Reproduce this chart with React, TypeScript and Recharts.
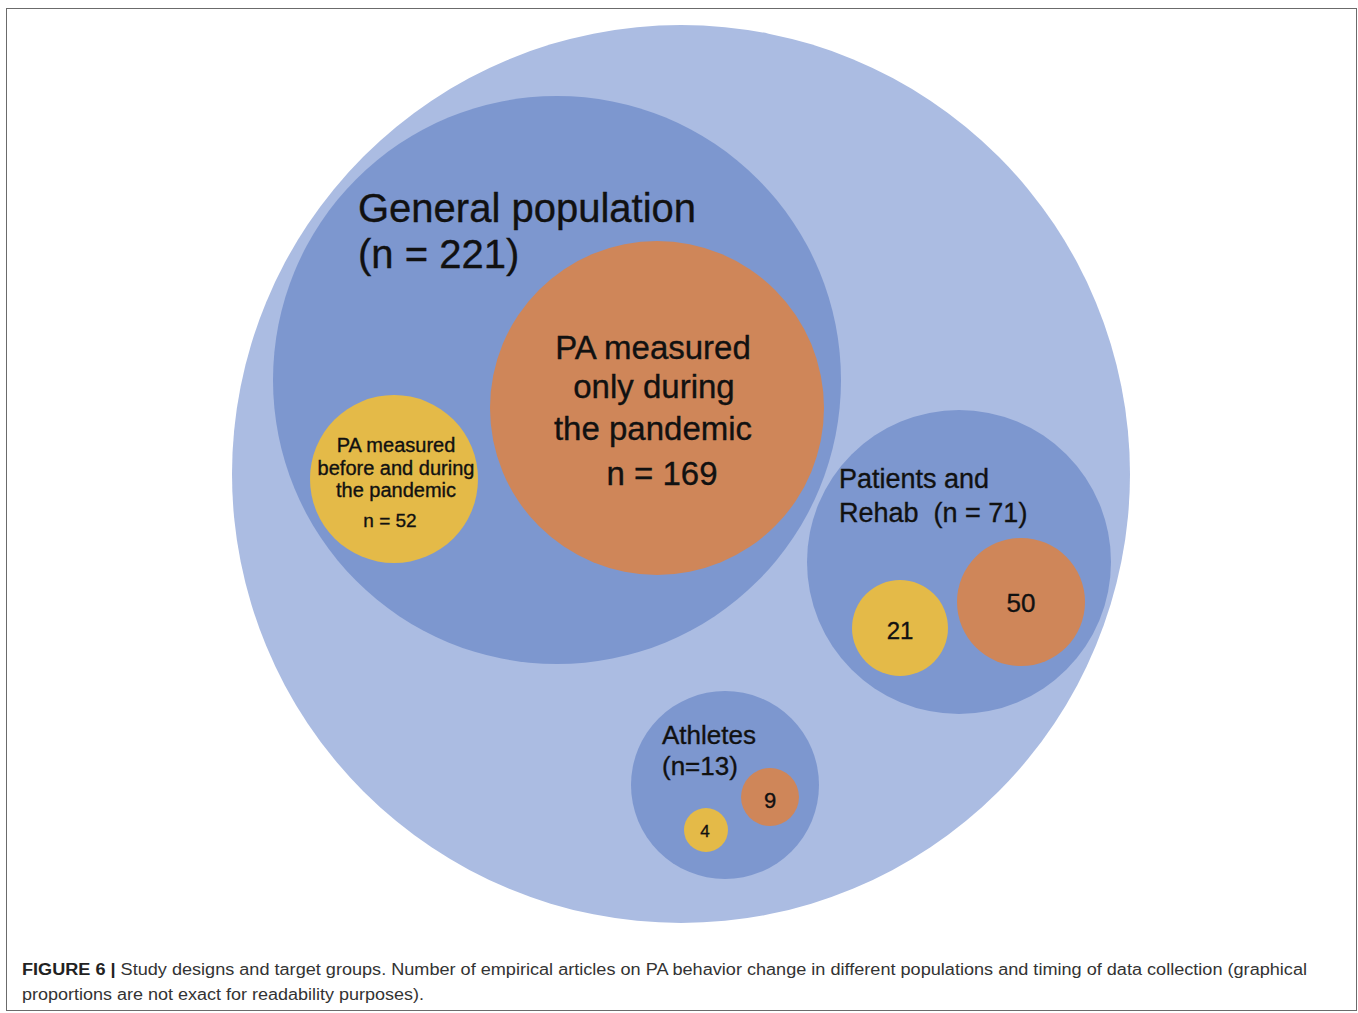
import React from 'react';
import { ScatterChart, Scatter, XAxis, YAxis } from 'recharts';

// Diagram space: one unit = one pixel of the original figure (origin top-left)
const W = 1358;
const H = 1013;

// Outer circle: all empirical articles
const allArticles = [{ key: 'all', n: 305, x: 681, y: 474, r: 449 }];

// Target groups
const populations = [
  { key: 'general', name: 'General population', n: 221, x: 557, y: 380, r: 284 },
  { key: 'patients', name: 'Patients and Rehab', n: 71, x: 959, y: 562, r: 152 },
  { key: 'athletes', name: 'Athletes', n: 13, x: 725, y: 785, r: 94 },
];

// PA measured only during the pandemic
const onlyDuring = [
  { key: 'general-only', n: 169, x: 657, y: 408, r: 167 },
  { key: 'patients-only', n: 50, x: 1021, y: 602, r: 64 },
  { key: 'athletes-only', n: 9, x: 770, y: 797, r: 29 },
];

// PA measured before and during the pandemic
const beforeAndDuring = [
  { key: 'general-both', n: 52, x: 394, y: 479, r: 84 },
  { key: 'patients-both', n: 21, x: 900, y: 628, r: 48 },
  { key: 'athletes-both', n: 4, x: 706, y: 830, r: 22 },
];

const COLORS = {
  all: '#abbce2',
  group: '#7d97cf',
  only: '#cf8659',
  both: '#e4ba48',
};

const FONT = '"Liberation Sans", Arial, sans-serif';

type Line = { text: string; dx: number; dy: number; size: number; anchor?: 'start' | 'middle' };

// label layout, offsets from circle centre
const labelLines = (key: string, n: number): Line[] => {
  switch (key) {
    case 'general':
      return [
        { text: 'General population', dx: -199, dy: -158, size: 40, anchor: 'start' },
        { text: `(n = ${n})`, dx: -199, dy: -112, size: 40, anchor: 'start' },
      ];
    case 'patients':
      return [
        { text: 'Patients and', dx: -120, dy: -74, size: 27, anchor: 'start' },
        { text: `Rehab  (n = ${n})`, dx: -120, dy: -40, size: 27, anchor: 'start' },
      ];
    case 'athletes':
      return [
        { text: 'Athletes', dx: -63, dy: -41, size: 26, anchor: 'start' },
        { text: `(n=${n})`, dx: -63, dy: -10, size: 26, anchor: 'start' },
      ];
    case 'general-only':
      return [
        { text: 'PA measured', dx: -4, dy: -49, size: 33 },
        { text: 'only during', dx: -3, dy: -10, size: 33 },
        { text: 'the pandemic', dx: -4, dy: 32, size: 33 },
        { text: `n = ${n}`, dx: 5, dy: 77, size: 33 },
      ];
    case 'general-both':
      return [
        { text: 'PA measured', dx: 2, dy: -27, size: 20 },
        { text: 'before and during', dx: 2, dy: -4, size: 20 },
        { text: 'the pandemic', dx: 2, dy: 18, size: 20 },
        { text: `n = ${n}`, dx: -4, dy: 48, size: 19 },
      ];
    case 'patients-only':
      return [{ text: `${n}`, dx: 0, dy: 10, size: 26 }];
    case 'patients-both':
      return [{ text: `${n}`, dx: 0, dy: 11, size: 24 }];
    case 'athletes-only':
      return [{ text: `${n}`, dx: 0, dy: 11, size: 22 }];
    case 'athletes-both':
      return [{ text: `${n}`, dx: -1, dy: 7, size: 17 }];
    default:
      return [];
  }
};

const bubble = (fill: string) => (props: any) => {
  const { cx, cy, payload } = props;
  const k = W / W; // plot width / domain width
  return (
    <g>
      <circle cx={cx} cy={cy} r={payload.r * k} fill={fill} />
      {labelLines(payload.key, payload.n).map((l, i) => (
        <text
          key={i}
          x={cx + l.dx}
          y={cy + l.dy}
          fontSize={l.size}
          fontFamily={FONT}
          fill="#111"
          stroke="#111"
          strokeWidth={0.35}
          textAnchor={l.anchor || 'middle'}
          style={{ whiteSpace: 'pre' }}
        >
          {l.text}
        </text>
      ))}
    </g>
  );
};

const App: React.FC = () => {
  return (
    <div style={{ position: 'absolute', left: 0, top: 0, width: W, height: H, background: '#fff' }}>
      <div
        style={{
          position: 'absolute',
          left: 6,
          top: 8,
          width: 1351,
          height: 1003,
          border: '1.5px solid #6b6b6b',
          boxSizing: 'border-box',
        }}
      />
      <div style={{ position: 'absolute', left: 0, top: 0 }}>
        <ScatterChart width={W} height={H} margin={{ top: 0, right: 0, bottom: 0, left: 0 }}>
          <XAxis type="number" dataKey="x" domain={[0, W]} hide />
          <YAxis type="number" dataKey="y" domain={[0, H]} reversed hide />
          <Scatter data={allArticles} shape={bubble(COLORS.all)} isAnimationActive={false} />
          <Scatter data={populations} shape={bubble(COLORS.group)} isAnimationActive={false} />
          <Scatter data={onlyDuring} shape={bubble(COLORS.only)} isAnimationActive={false} />
          <Scatter data={beforeAndDuring} shape={bubble(COLORS.both)} isAnimationActive={false} />
        </ScatterChart>
      </div>
      <svg width={W} height={60} style={{ position: 'absolute', left: 0, top: 950 }}>
        <text x={22} y={25} fontFamily={FONT} fontSize={16} fill="#333" textLength={1285} lengthAdjust="spacingAndGlyphs">
          <tspan fontWeight="bold" fill="#222">FIGURE 6 |</tspan>
          <tspan> Study designs and target groups. Number of empirical articles on PA behavior change in different populations and timing of data collection (graphical</tspan>
        </text>
        <text x={22} y={50} fontFamily={FONT} fontSize={16} fill="#333" textLength={402} lengthAdjust="spacingAndGlyphs">
          proportions are not exact for readability purposes).
        </text>
      </svg>
    </div>
  );
};

export default App;
